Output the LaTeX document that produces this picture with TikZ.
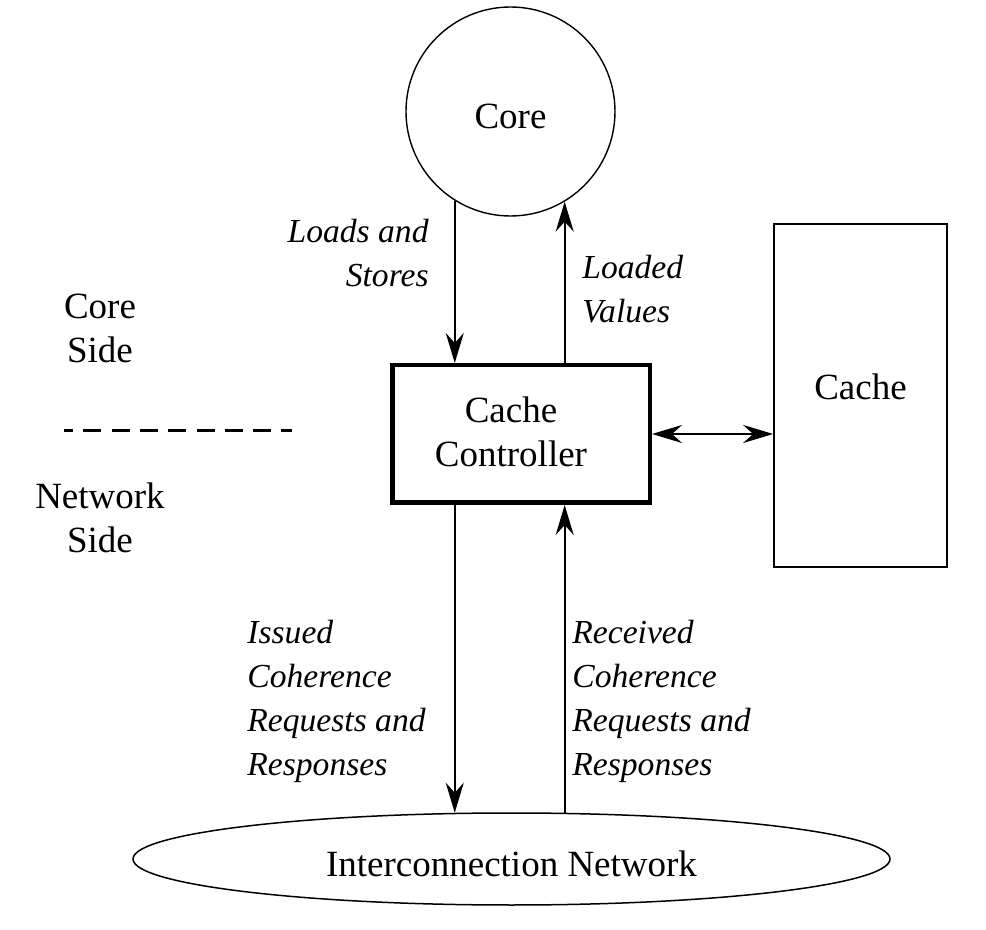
\documentclass[tikz,border=0pt]{standalone}
\usepackage{fontspec}
\setmainfont{Liberation Serif}
\usetikzlibrary{arrows.meta,shapes.geometric}
\begin{document}
\begin{tikzpicture}[x=0.5pt,y=-0.5pt,
  rm/.style={font=\fontsize{18.5}{22}\selectfont},
  it/.style={font=\fontsize{16.8}{22}\selectfont\itshape},
  lbl/.style={inner sep=0pt},
  arr/.style={line width=1.1pt,-{Stealth[length=15pt,width=9pt,inset=5pt]}},
  dblarr/.style={line width=1.1pt,{Stealth[length=15pt,width=9pt,inset=5pt]}-{Stealth[length=15pt,width=9pt,inset=5pt]}},
  ]
\useasboundingbox (0,0) rectangle (986,930);
% shapes
\node[circle,draw,line width=0.7pt,minimum size=104.5pt,inner sep=0pt,rm,
      text height=17.5pt,text depth=0pt] (core) at (510.5,111.5) {Core};
\node[draw,line width=2.25pt,minimum width=128.75pt,minimum height=68.75pt,inner sep=0pt] (ctrl) at (521,434) {};
\node[rm,lbl,align=center,anchor=base] (ctrltext) at (511,467) {Cache\\Controller};
\node[draw,line width=0.85pt,minimum width=86.5pt,minimum height=171.5pt,inner sep=0pt,rm,
      text height=4.5pt,text depth=0pt] (cache) at (860.5,395.5) {Cache};
\node[ellipse,draw,line width=0.75pt,minimum width=378.5pt,minimum height=46pt,inner sep=0pt,rm,
      text height=17pt,text depth=0pt] (net) at (511.5,859) {Interconnection Network};
% connectors
\draw[arr] (core.-122.1) -- (core.-122.1 |- ctrl.north);
\draw[arr] (ctrl.north -| core.-59.1) -- (core.-59.1);
\draw[arr] (ctrl.south -| core.-122.1) -- (core.-122.1 |- net.140.65);
\draw[arr] (core.-59.1 |- net.40.95) -- (ctrl.south -| core.-59.1);
\draw[dblarr] (ctrl.east) -- (ctrl.east -| cache.west);
% side divider
\coordinate (dashL) at (64,430.5);
\coordinate (dashR) at (292,430.5);
\draw[line width=1.6pt,dash pattern=on 9pt off 5.15pt,dash phase=4.5pt] (dashL) -- (dashR);
% labels (base anchor = baseline of the last line)
\node[it,lbl,align=right,anchor=base east] (ls) at (429,287) {Loads and\\Stores};
\node[it,lbl,align=left,anchor=base west] (lv) at (582,323) {Loaded\\Values};
\node[rm,lbl,align=center,anchor=base] (cs) at (100,363) {Core\\Side};
\node[rm,lbl,align=center,anchor=base] (ns) at (100,553) {Network\\Side};
\node[it,lbl,align=left,anchor=base west] (is) at (247,775) {Issued\\Coherence\\Requests and\\Responses};
\node[it,lbl,align=left,anchor=base west] (rc) at (572,775) {Received\\Coherence\\Requests and\\Responses};
\end{tikzpicture}
\end{document}
